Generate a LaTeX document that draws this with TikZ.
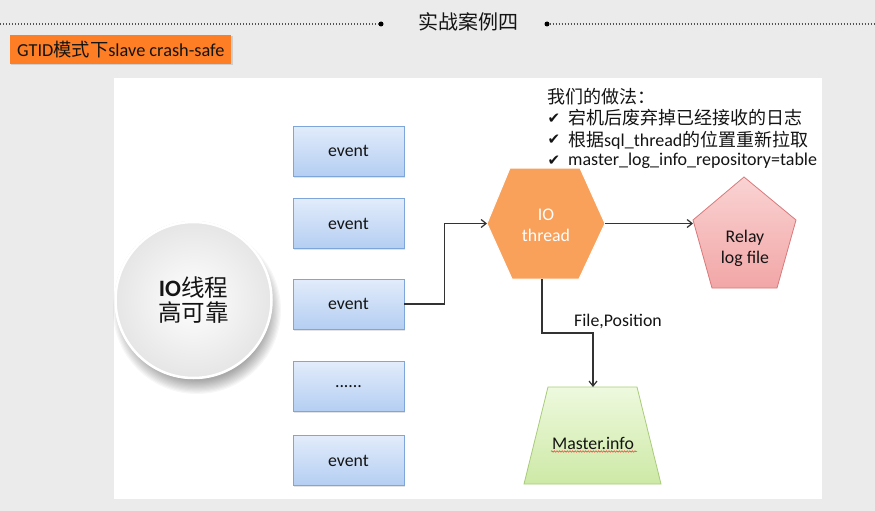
\documentclass[tikz,border=0pt]{standalone}
\usepackage{fontspec}
\setmainfont{Carlito}
\newfontfamily\cjk{Noto Sans CJK SC}
\newfontfamily\sym{DejaVu Sans}
\usetikzlibrary{arrows.meta,shadows,decorations.pathmorphing}
\definecolor{bgc}{HTML}{EBEBEB}
\definecolor{hdr}{HTML}{FD7E24}
\definecolor{evtop}{HTML}{E2ECFB}
\definecolor{evbot}{HTML}{B4CEF2}
\definecolor{evline}{HTML}{7FA6DA}
\definecolor{hexfill}{HTML}{F9A05A}
\definecolor{pentop}{HTML}{FAD3D3}
\definecolor{penbot}{HTML}{F2A6A6}
\definecolor{penline}{HTML}{D9797B}
\definecolor{trtop}{HTML}{EEF9DE}
\definecolor{trbot}{HTML}{CDE9A6}
\definecolor{trline}{HTML}{A8CC78}
\definecolor{txt}{HTML}{141414}
\definecolor{lnc}{HTML}{333333}
\begin{document}
\begin{tikzpicture}[x=1pt,y=-1pt,
  every node/.style={font=\fontsize{17.8}{21}\selectfont, text=txt},
  eventbox/.style={draw=evline, line width=0.8pt, top color=evtop, bottom color=evbot,
    minimum width=111pt, minimum height=50pt, inner sep=0pt,
    drop shadow={opacity=0.22, shadow xshift=1pt, shadow yshift=-1.5pt}},
  conn/.style={draw=lnc, line width=1.2pt, -{Straight Barb[length=5pt,width=8pt,line width=1.2pt]}},
  dotline/.style={draw=gray!65!black, line width=1.1pt, dash pattern=on 1.1pt off 1.9pt},
  bullet/.style={fill=black, circle, inner sep=0pt, minimum size=5pt},
  chk/.style={inner sep=0pt, font=\sym\fontsize{15}{17}\selectfont}
]
\useasboundingbox (0,0) rectangle (875,511);
% background
\fill[bgc] (0,0) rectangle (875,511);
% header line
\node[bullet] (dl) at (381,24) {};
\node[bullet] (dr) at (547,24) {};
\coordinate (ls) at (0,24);
\coordinate (re) at (875,24);
\draw[dotline] (ls) -- (dl);
\draw[dotline] (dr) -- (re);
\node[font=\cjk\fontsize{20}{22}\selectfont] (title) at (468.5,22) {实战案例四};
% orange header box
\fill[black, opacity=0.12] (11,36.5) rectangle (232.5,65.5);
\fill[hdr] (10,35) rectangle (231,64);
\node[anchor=west, inner sep=0pt, font=\fontsize{18.3}{21}\selectfont] (hdrtext) at (17,50) {GTID{\cjk 模式下}slave crash-safe};
% white panel
\fill[white] (114,78) rectangle (822,499);
% circle shadow
\foreach \i in {0,...,11}{
  \fill[black, opacity=0.03] (197,310) circle ({84-\i*1.2});
}
\fill[gray!35] (193.5,300) circle (79);
\node[circle, minimum size=156pt, draw=white, line width=2.5pt, inner sep=0pt,
  inner color=white, outer color=gray!20, align=center,
  font=\fontsize{23.5}{25.5}\selectfont] (circ) at (193.5,300)
  {\textbf{IO}{\cjk 线程}\\{\cjk 高可靠}};
% events
\node[eventbox] (e1) at (348.5,151) {event};
\node[eventbox] (e2) at (348.5,223.5) {event};
\node[eventbox] (e3) at (348.5,304) {event};
\node[eventbox] (e4) at (348.5,386.5) {......};
\node[eventbox] (e5) at (348.5,460.5) {event};
% hexagon
\coordinate (hexL) at (487,223.5);
\coordinate (hexR) at (605,223.5);
\coordinate (hexB) at (542,279);
\fill[hexfill, draw=white, line width=1pt] (487,223.5) -- (510,168) -- (580,168) -- (605,223.5) -- (579,279) -- (512,279) -- cycle;
\node[text=white, align=center] (iot) at (546,225.5) {IO\\thread};
% pentagon
\coordinate (penL) at (693,223.5);
\path[top color=pentop, bottom color=penbot, draw=penline, line width=0.8pt]
  (744,177) -- (796,220) -- (777,288) -- (712,288) -- (693,220) -- cycle;
\node[align=center] (relay) at (745,248) {Relay\\log file};
% trapezoid
\coordinate (mtop) at (593,387);
\path[top color=trtop, bottom color=trbot, draw=trline, line width=0.8pt]
  (548,387) -- (637,387) -- (661,484) -- (524,484) -- cycle;
\node (minfo) at (593,443) {Master.info};
\coordinate (wv1) at (551,451.5);
\coordinate (wv2) at (637,451.5);
\draw[red!80, line width=0.5pt, decorate, decoration={snake, amplitude=0.8pt, segment length=2.6pt}] (wv1) -- (wv2);
% connectors
\draw[conn] (e3.east) -- ++(40,0) |- (hexL);
\draw[conn] (hexR) -- (penL);
\draw[conn] (hexB) -- ++(0,54) -| (mtop);
\node[anchor=west, inner sep=0pt] (fp) at (574,321) {File,Position};
% text block
\node[anchor=west, inner sep=0pt, font=\cjk\fontsize{18}{21}\selectfont] (we) at (547,97) {我们的做法：};
\node[chk] (c1) at (554,118.5) {✔};
\node[chk] (c2) at (554,140) {✔};
\node[chk] (c3) at (554,161) {✔};
\node[anchor=west, inner sep=0pt, font=\cjk\fontsize{18}{21}\selectfont] (t1) at (568,118) {宕机后废弃掉已经接收的日志};
\node[anchor=west, inner sep=0pt, font=\fontsize{18}{21}\selectfont] (t2) at (568,140) {{\cjk 根据}sql\_thread{\cjk 的位置重新拉取}};
\node[anchor=west, inner sep=0pt, font=\fontsize{18}{21}\selectfont] (t3) at (568,161) {master\_log\_info\_repository=table};
\end{tikzpicture}
\end{document}
